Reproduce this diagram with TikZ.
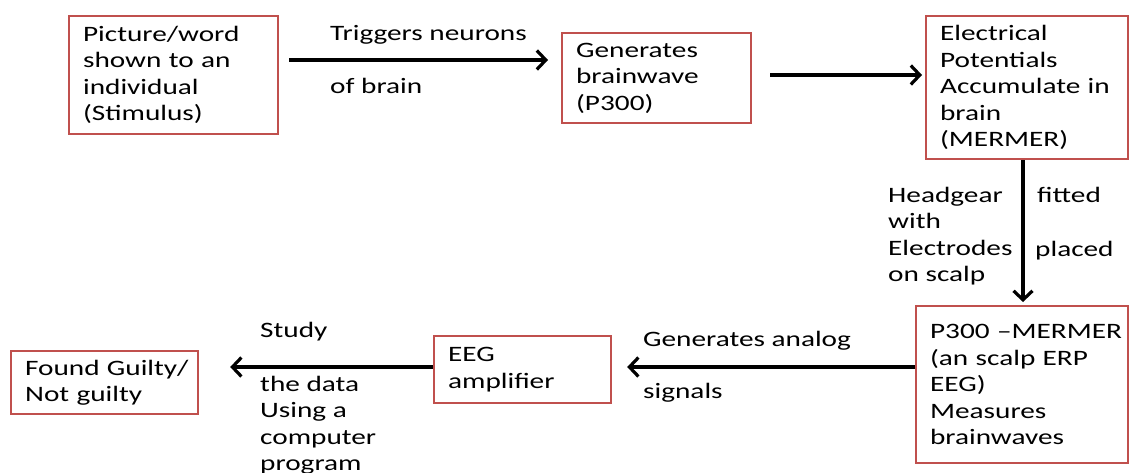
\documentclass[tikz,border=0pt]{standalone}
\usepackage{fontspec}
\setmainfont{Carlito}[FakeStretch=1.33]
\usetikzlibrary{arrows.meta,calc}
\definecolor{boxred}{HTML}{C0504D}
\newcommand{\fsz}{\fontsize{22}{26.5}\selectfont}
\tikzset{
 box/.style={draw=boxred, line width=2.2pt, anchor=north west, inner xsep=14pt, inner ysep=0pt, align=left, font=\fsz},
 lbl/.style={anchor=base west, inner sep=0pt, align=left, font=\fsz},
 mlbl/.style={anchor=north west, inner sep=0pt, align=left, font=\fsz},
 arr/.style={line width=3.2pt, -{Straight Barb[length=9pt,width=19pt,line width=3.2pt]}}
}
\begin{document}
\begin{tikzpicture}[x=1pt,y=-1pt]
\useasboundingbox (0,0) rectangle (1131,473);
% boxes
\node[box, minimum width=209pt, minimum height=118pt, text width=181pt] (b1) at (68,15)
 {Picture/word\\shown~to~an\\individual\\(Stimulus)};
\node[box, minimum width=189pt, minimum height=90pt, text width=161pt] (b2) at (561,32)
 {Generates\\brainwave\\(P300)};
\node[box, minimum width=202pt, minimum height=143pt, text width=174pt] (b3) at (925,15)
 {Electrical\\Potentials\\Accumulate~in\\brain\\(MERMER)};
\node[box, minimum width=212pt, minimum height=157pt, text width=184pt] (b4) at (915,305)
 {\mbox{P300 --MERMER}\\(an~scalp~ERP\\EEG)\\Measures\\brainwaves};
\node[box, minimum width=177pt, minimum height=67pt, text width=149pt] (b5) at (433,335)
 {EEG\\amplifier};
\node[box, minimum width=187pt, minimum height=63pt, text width=159pt] (b6) at (10,350)
 {Found~Guilty/\\Not~guilty};
% connectors
\draw[arr] ($(b1.east |- 0,60)+(10,0)$) -- ($(b2.west |- 0,60)+(-13,0)$);
\draw[arr] ($(b2.east |- 0,75)+(18,0)$) -- ($(b3.west |- 0,75)+(-3,0)$);
\draw[arr] (b3.south -| 1023,0) -- ($(b4.north -| 1023,0)+(0,-3)$);
\draw[arr] (b4.west |- 0,367) -- ($(b5.east |- 0,367)+(15,0)$);
\draw[arr] (b5.west |- 0,367) -- ($(b6.east |- 0,367)+(31,0)$);
% labels
\node[lbl] (l1) at (330,41) {Triggers neurons};
\node[lbl] (l2) at (330,94) {of brain};
\node[mlbl] (l3) at (888,187) {Headgear\\with\\Electrodes\\on scalp};
\node[lbl] (l4) at (1037,202) {fitted};
\node[lbl] (l5) at (1035,256) {placed};
\node[lbl] (l6) at (643,346) {Generates analog};
\node[lbl] (l7) at (643,398) {signals};
\node[lbl] (l8) at (260,337) {Study};
\node[mlbl] (l9) at (260,376) {the data\\Using a\\computer\\program};
\end{tikzpicture}
\end{document}
